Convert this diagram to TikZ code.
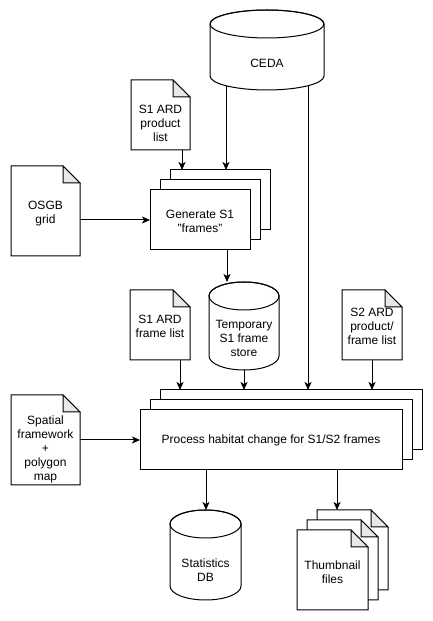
\documentclass[tikz,border=0pt]{standalone}
\usepackage{fontspec}
\setmainfont{Liberation Sans}
\usetikzlibrary{arrows.meta,calc}
\tikzset{
  shapebox/.style={inner sep=0pt, outer sep=0pt, draw=none},
  stackbox/.style={inner sep=0pt, outer sep=0pt, draw=black, fill=white, line width=1pt, minimum width=#1},
  txt/.style={inner sep=0pt, align=center, text=black, font=\fontsize{12}{14}\selectfont},
  outline/.style={draw=black, line width=1pt, fill=white, line join=miter},
  foldfill/.style={draw=black, line width=1pt, fill=black!9, line join=miter},
  arr/.style={draw=black, line width=1pt, -{Stealth[length=8pt,width=7pt,inset=2pt]}},
}
% cylinder: node name, x radius, y radius
\newcommand\mycyl[3]{%
  \draw[outline] ([yshift=-#3pt]#1.north west) -- ([yshift=#3pt]#1.south west)
     arc[start angle=180,end angle=360,x radius=#2pt,y radius=#3pt]
     -- ([yshift=-#3pt]#1.north east)
     arc[start angle=0,end angle=180,x radius=#2pt,y radius=#3pt] -- cycle;
  \draw[line width=1pt] ([yshift=-#3pt]#1.north) ellipse[x radius=#2pt,y radius=#3pt];
}
% document (note) shape with folded corner
\newcommand\mydoc[1]{%
  \draw[outline] (#1.north west) -- ([xshift=-17pt]#1.north east) -- ([yshift=-17pt]#1.north east)
     -- (#1.south east) -- (#1.south west) -- cycle;
  \draw[foldfill] ([xshift=-17pt]#1.north east) -- ([xshift=-17pt,yshift=-17pt]#1.north east)
     -- ([yshift=-17pt]#1.north east) -- cycle;
}
\begin{document}
\begin{tikzpicture}[x=1pt,y=1pt]
\useasboundingbox (0,0) rectangle (433,621);
\fill[white] (0,0) rectangle (433,621);

% CEDA
\node[shapebox, minimum width=114pt, minimum height=80pt] (ceda) at (267,571) {};
\mycyl{ceda}{57}{14}
\node[txt] (cedaT) at ([yshift=-13pt]ceda.center) {CEDA};

% S1 ARD product list
\node[shapebox, minimum width=59pt, minimum height=70pt] (s1p) at (160.5,506) {};
\mydoc{s1p}
\node[txt] (s1pT) at ([yshift=-8pt]s1p.center) {S1 ARD\\product\\list};

% Generate stack
\node[stackbox=100pt, minimum height=60pt] (gen1) at (220,421) {};
\node[stackbox=100pt, minimum height=60pt] (gen2) at (210,411) {};
\node[stackbox=100pt, minimum height=60pt] (gen3) at (200,401) {};
\node[txt] (genT) at ([yshift=-1pt]gen3.center) {Generate S1\\"frames"};

% OSGB grid
\node[shapebox, minimum width=69pt, minimum height=90pt] (osgb) at (45.5,410) {};
\mydoc{osgb}
\node[txt] (osgbT) at ([yshift=-2.5pt]osgb.center) {OSGB\\grid};

% Temporary store
\node[shapebox, minimum width=70pt, minimum height=88pt] (temp) at (244,295) {};
\mycyl{temp}{35}{14}
\node[txt] (tempT) at ([yshift=-12pt]temp.center) {Temporary\\S1 frame\\store};

% S1 ARD frame list
\node[shapebox, minimum width=60pt, minimum height=70pt] (s1f) at (160,296) {};
\mydoc{s1f}
\node[txt] (s1fT) at ([yshift=-1pt]s1f.center) {S1 ARD\\frame list};

% S2 ARD product/frame list
\node[shapebox, minimum width=60pt, minimum height=70pt] (s2) at (372,296) {};
\mydoc{s2}
\node[txt] (s2T) at ([yshift=-1pt]s2.center) {S2 ARD\\product/\\frame list};

% Process stack
\node[stackbox=262pt, minimum height=60pt] (proc1) at (291,201) {};
\node[stackbox=262pt, minimum height=60pt] (proc2) at (281,191) {};
\node[stackbox=262pt, minimum height=60pt] (proc3) at (271,181) {};
\node[txt] (procT) at (proc3.center) {Process habitat change for S1/S2 frames};

% Spatial framework
\node[shapebox, minimum width=69pt, minimum height=90pt] (sp) at (45.5,181) {};
\mydoc{sp}
\node[txt] (spT) at ([yshift=-9pt]sp.center) {Spatial\\framework\\+\\polygon\\map};

% Statistics DB
\node[shapebox, minimum width=71pt, minimum height=90pt] (stats) at (205.5,66) {};
\mycyl{stats}{35.5}{14}
\node[txt] (statsT) at ([yshift=-15pt]stats.center) {Statistics\\DB};

% Thumbnail stack
\node[shapebox, minimum width=71pt, minimum height=80pt] (th1) at (352.5,71) {};
\mydoc{th1}
\node[shapebox, minimum width=71pt, minimum height=80pt] (th2) at (342.5,61) {};
\mydoc{th2}
\node[shapebox, minimum width=71pt, minimum height=80pt] (th3) at (332.5,51) {};
\mydoc{th3}
\node[txt] (thT) at ([yshift=-2pt]th3.center) {Thumbnail\\files};

% Connectors
\coordinate (cedaL) at ([xshift=-41pt,yshift=4.3pt]ceda.south);
\coordinate (cedaR) at ([xshift=41pt,yshift=4.3pt]ceda.south);
\draw[arr] (cedaL) -- (cedaL |- gen1.north);
\draw[arr] (cedaR) -- (cedaR |- proc1.north);
\draw[arr] ([xshift=21.5pt]s1p.south) -- ([xshift=21.5pt]s1p.south |- gen1.north);
\draw[arr] (gen3.west -| osgb.east) -- (gen3.west);
\draw[arr] ([xshift=27pt]gen3.south) -- ([xshift=27pt]gen3.south |- temp.north);
\draw[arr] ([xshift=20pt]s1f.south) -- ([xshift=20pt]s1f.south |- proc1.north);
\draw[arr] (temp.south) -- (temp.south |- proc1.north);
\draw[arr] (s2.south) -- (s2.south |- proc1.north);
\draw[arr] (proc3.west -| sp.east) -- (proc3.west);
\draw[arr] ([xshift=-65pt]proc3.south) -- ([xshift=-65pt]proc3.south |- stats.north);
\draw[arr] ([xshift=66pt]proc3.south) -- ([xshift=66pt]proc3.south |- th1.north);
\end{tikzpicture}
\end{document}
